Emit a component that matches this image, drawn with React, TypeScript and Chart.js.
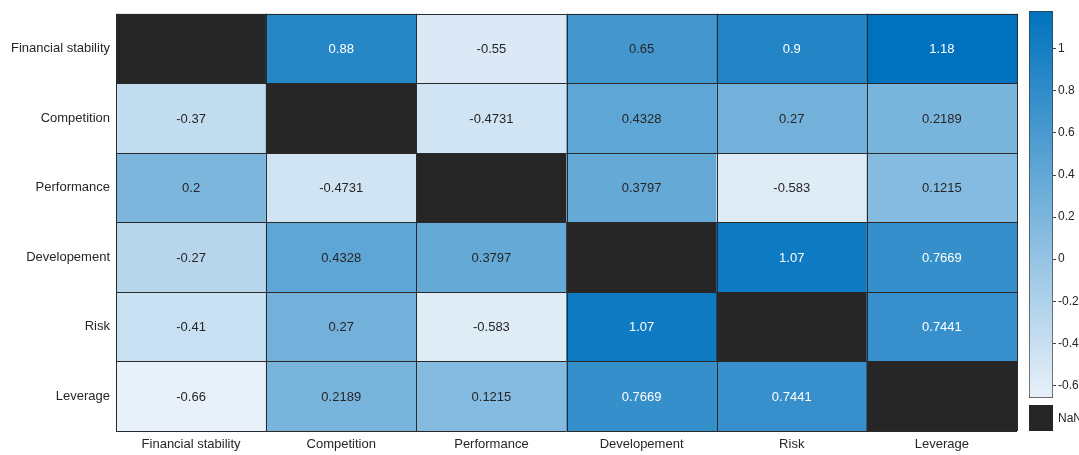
import React, { useEffect, useRef } from "react";
import { Chart, registerables } from "chart.js";

Chart.register(...registerables);

// Variable names shared by both axes
const categories = [
  "Financial stability",
  "Competition",
  "Performance",
  "Developement",
  "Risk",
  "Leverage",
];

// Correlation rows (null = missing, shown as NaN)
const rowFinancialStability = [null, 0.88, -0.55, 0.65, 0.9, 1.18];
const rowCompetition = [-0.37, null, -0.4731, 0.4328, 0.27, 0.2189];
const rowPerformance = [0.2, -0.4731, null, 0.3797, -0.583, 0.1215];
const rowDevelopement = [-0.27, 0.4328, 0.3797, null, 1.07, 0.7669];
const rowRisk = [-0.41, 0.27, -0.583, 1.07, null, 0.7441];
const rowLeverage = [-0.66, 0.2189, 0.1215, 0.7669, 0.7441, null];

const colorLimits = [-0.66, 1.18];
const colorbarTicks = [-0.6, -0.4, -0.2, 0, 0.2, 0.4, 0.6, 0.8, 1];

const rows: (number | null)[][] = [
  rowFinancialStability,
  rowCompetition,
  rowPerformance,
  rowDevelopement,
  rowRisk,
  rowLeverage,
];

const LOW = [232, 241, 249];
const HIGH = [0, 114, 189];
const NAN_COLOR = "#262626";
const EDGE = "#2a2a2a";
const TEXT = "#262626";
const FONT = "'Liberation Sans', Arial, Helvetica, sans-serif";

function rgbFor(v: number): number[] {
  const t = Math.min(1, Math.max(0, (v - colorLimits[0]) / (colorLimits[1] - colorLimits[0])));
  return LOW.map((l, i) => Math.round(l + (HIGH[i] - l) * t));
}
function colorFor(v: number | null): string {
  if (v == null) return NAN_COLOR;
  const [r, g, b] = rgbFor(v);
  return `rgb(${r},${g},${b})`;
}
function textColorFor(v: number): string {
  const [r, g, b] = rgbFor(v);
  const lum = (0.299 * r + 0.587 * g + 0.114 * b) / 255;
  return lum > 0.5 ? TEXT : "#ffffff";
}

// Cell edges drawn at the scale boundaries
const gridPlugin = {
  id: "cellGrid",
  afterDatasetsDraw(chart: any) {
    const { ctx, scales } = chart;
    const xs = scales.x;
    const ys = scales.y;
    ctx.save();
    ctx.strokeStyle = EDGE;
    ctx.lineWidth = 1;
    ctx.beginPath();
    for (let i = 0; i <= categories.length; i++) {
      const x = Math.round(xs.getPixelForValue(i - 0.5)) + 0.5;
      ctx.moveTo(x, ys.getPixelForValue(0));
      ctx.lineTo(x, ys.getPixelForValue(categories.length));
    }
    for (let k = 0; k <= categories.length; k++) {
      const y = Math.round(ys.getPixelForValue(k)) + 0.5;
      ctx.moveTo(xs.getPixelForValue(-0.5), y);
      ctx.lineTo(xs.getPixelForValue(categories.length - 0.5), y);
    }
    ctx.stroke();
    ctx.restore();
  },
};

// Value labels centred in each cell
const labelPlugin = {
  id: "cellLabels",
  afterDatasetsDraw(chart: any) {
    const { ctx } = chart;
    ctx.save();
    ctx.font = `13px ${FONT}`;
    ctx.textAlign = "center";
    ctx.textBaseline = "middle";
    chart.data.datasets.forEach((ds: any, r: number) => {
      const meta = chart.getDatasetMeta(r);
      meta.data.forEach((el: any, c: number) => {
        const v = rows[r][c];
        if (v == null) return;
        ctx.fillStyle = textColorFor(v);
        ctx.fillText(String(v), el.x, (el.y + el.base) / 2 + 1);
      });
    });
    ctx.restore();
  },
};

function Heatmap() {
  const ref = useRef<HTMLCanvasElement>(null);
  useEffect(() => {
    const chart = new Chart(ref.current!, {
      type: "bar",
      data: {
        labels: categories,
        datasets: rows.map((row, r) => ({
          label: categories[r],
          data: categories.map(() => 1),
          backgroundColor: row.map((v) => colorFor(v)),
          borderWidth: 0,
          barPercentage: 1,
          categoryPercentage: 1,
          stack: "cells",
        })),
      },
      options: {
        responsive: false,
        animation: false,
        layout: { padding: { top: 11, right: 3, left: 0, bottom: 0 } },
        plugins: { legend: { display: false }, tooltip: { enabled: false } },
        scales: {
          x: {
            type: "category",
            stacked: true,
            grid: { display: false, drawTicks: false },
            border: { display: false },
            ticks: { color: TEXT, font: { family: FONT, size: 13 }, padding: 6, maxRotation: 0 },
            afterFit: (s: any) => {
              s.height = 24;
            },
          },
          y: {
            type: "linear",
            stacked: true,
            min: 0,
            max: categories.length,
            reverse: true,
            grid: { display: false, drawTicks: false },
            border: { display: false },
            afterBuildTicks: (s: any) => {
              s.ticks = categories.map((_, i) => ({ value: i + 0.5 }));
            },
            ticks: {
              color: TEXT,
              font: { family: FONT, size: 13 },
              padding: 6,
              autoSkip: false,
              callback: (v: any) => categories[Math.floor(Number(v))],
            },
            afterFit: (s: any) => {
              s.width = 116;
            },
          },
        },
      },
      plugins: [gridPlugin, labelPlugin],
    } as any);
    return () => chart.destroy();
  }, []);
  return <canvas ref={ref} width={1020} height={455} />;
}

function Colorbar() {
  const ref = useRef<HTMLCanvasElement>(null);
  useEffect(() => {
    const chart = new Chart(ref.current!, {
      type: "bar",
      data: {
        labels: [""],
        datasets: [
          {
            data: [[colorLimits[0], colorLimits[1]]],
            backgroundColor: (c: any) => {
              const area = c.chart.chartArea;
              if (!area) return colorFor(0);
              const g = c.chart.ctx.createLinearGradient(0, area.bottom, 0, area.top);
              g.addColorStop(0, colorFor(colorLimits[0]));
              g.addColorStop(1, colorFor(colorLimits[1]));
              return g;
            },
            borderColor: "#3a3a3a",
            borderWidth: 1,
            borderSkipped: false,
            barPercentage: 1,
            categoryPercentage: 1,
          },
        ],
      },
      options: {
        responsive: false,
        animation: false,
        layout: { padding: { top: 11, left: 9, right: 0, bottom: 57 } },
        plugins: { legend: { display: false }, tooltip: { enabled: false } },
        scales: {
          x: { display: false },
          y: {
            position: "right",
            min: colorLimits[0],
            max: colorLimits[1],
            grid: { drawOnChartArea: false, drawTicks: true, tickLength: 3, color: "#444444" },
            border: { display: false },
            afterBuildTicks: (s: any) => {
              s.ticks = colorbarTicks.map((v) => ({ value: v }));
            },
            ticks: {
              color: TEXT,
              font: { family: FONT, size: 12 },
              padding: 2,
              callback: (v: any) => String(Math.round(Number(v) * 10) / 10),
            },
            afterFit: (s: any) => {
              s.width = 26;
            },
          },
        },
      },
    } as any);
    return () => chart.destroy();
  }, []);
  return <canvas ref={ref} width={59} height={455} />;
}

export default function App() {
  return (
    <div
      style={{
        position: "fixed",
        left: 0,
        top: 0,
        width: 1079,
        height: 455,
        background: "#ffffff",
        overflow: "hidden",
      }}
    >
      <div style={{ position: "absolute", left: 0, top: 0 }}>
        <Heatmap />
      </div>
      <div style={{ position: "absolute", left: 1020, top: 0 }}>
        <Colorbar />
      </div>
      <div
        style={{
          position: "absolute",
          left: 1029,
          top: 405,
          width: 24,
          height: 26,
          background: NAN_COLOR,
        }}
      />
      <div
        style={{
          position: "absolute",
          left: 1058,
          top: 411,
          fontFamily: FONT,
          fontSize: 12,
          color: TEXT,
          whiteSpace: "nowrap",
          lineHeight: "14px",
        }}
      >
        NaN
      </div>
    </div>
  );
}
